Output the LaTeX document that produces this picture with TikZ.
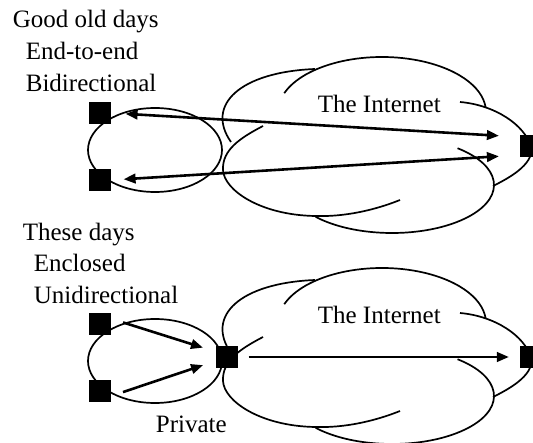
\documentclass[tikz,border=0pt]{standalone}
\usepackage{fontspec}
\setmainfont{Liberation Serif}
\usetikzlibrary{arrows.meta}
\tikzset{
  host/.style={fill=black, inner sep=0pt, minimum size=21.5pt},
  flow/.style={line width=2.6pt},
  txt/.style={anchor=base west, inner sep=0pt, font=\fontsize{25}{30}\selectfont},
  >={Triangle[length=12pt,width=9.5pt]}
}
\begin{document}
\begin{tikzpicture}[x=1pt, y=-1pt, line width=1.7pt]
    \useasboundingbox (0,0) rectangle (533,443);
    % site ellipse and cloud, same in both halves
    \foreach \dy in {0,211} {
      \begin{scope}[shift={(0,\dy)}]
        \draw (155,150) ellipse[x radius=67, y radius=42];
        \draw (231,142) .. controls (205,105) and (240,72) .. (315,69);
        \draw ([shift={(200:104 and 55)}]382,112) arc[start angle=200, end angle=355, x radius=104, y radius=55];
        \draw (460,102) .. controls (495,105) and (525,125) .. (531,147) .. controls (535,165) and (505,180) .. (493,186);
        \draw ([shift={(-50:102 and 48)}]392,185) arc[start angle=-50, end angle=138.5, x radius=102, y radius=48];
        \draw (400,200) .. controls (375,210) and (345,217) .. (315,216) .. controls (260,215) and (224,190) .. (223,170) .. controls (222,150) and (240,138) .. (263,126);
      \end{scope}
    }

    \node[txt] (old) at (12,28) {Good old days};
    \node[txt] (e2e) at (25,60) {End-to-end};
    \node[txt] (bidi) at (25,92) {Bidirectional};
    \node[txt] (net1) at (317,113) {The Internet};

    \node[txt] (now) at (22,241) {These days};
    \node[txt] (encl) at (33,272) {Enclosed};
    \node[txt] (unidi) at (33,304) {Unidirectional};
    \node[txt] (net2) at (317,324) {The Internet};
    \node[txt] (priv) at (155,433) {Private};

    \node[host] (a1) at (100,113) {};
    \node[host] (a2) at (100,180) {};
    \node[host] (a3) at (530.5,146) {};
    \node[host] (b1) at (100,324) {};
    \node[host] (b2) at (100,391) {};
    \node[host] (gw) at (227,357) {};
    \node[host] (b3) at (530.5,357) {};

    \draw[flow, <->, shorten <=14pt, shorten >=20pt] (a1.east) -- (a3.142);
    \draw[flow, <->, shorten <=12pt, shorten >=20pt] (a2.east) -- (a3.218);
    \draw[flow, ->, shorten <=12pt, shorten >=13pt] (b1.24) -- (gw.155);
    \draw[flow, ->, shorten <=12pt, shorten >=13pt] (b2.337) -- (gw.199);
    \draw[flow, ->, shorten <=10pt, shorten >=10pt] (gw.east) -- (b3.west);
\end{tikzpicture}
\end{document}
